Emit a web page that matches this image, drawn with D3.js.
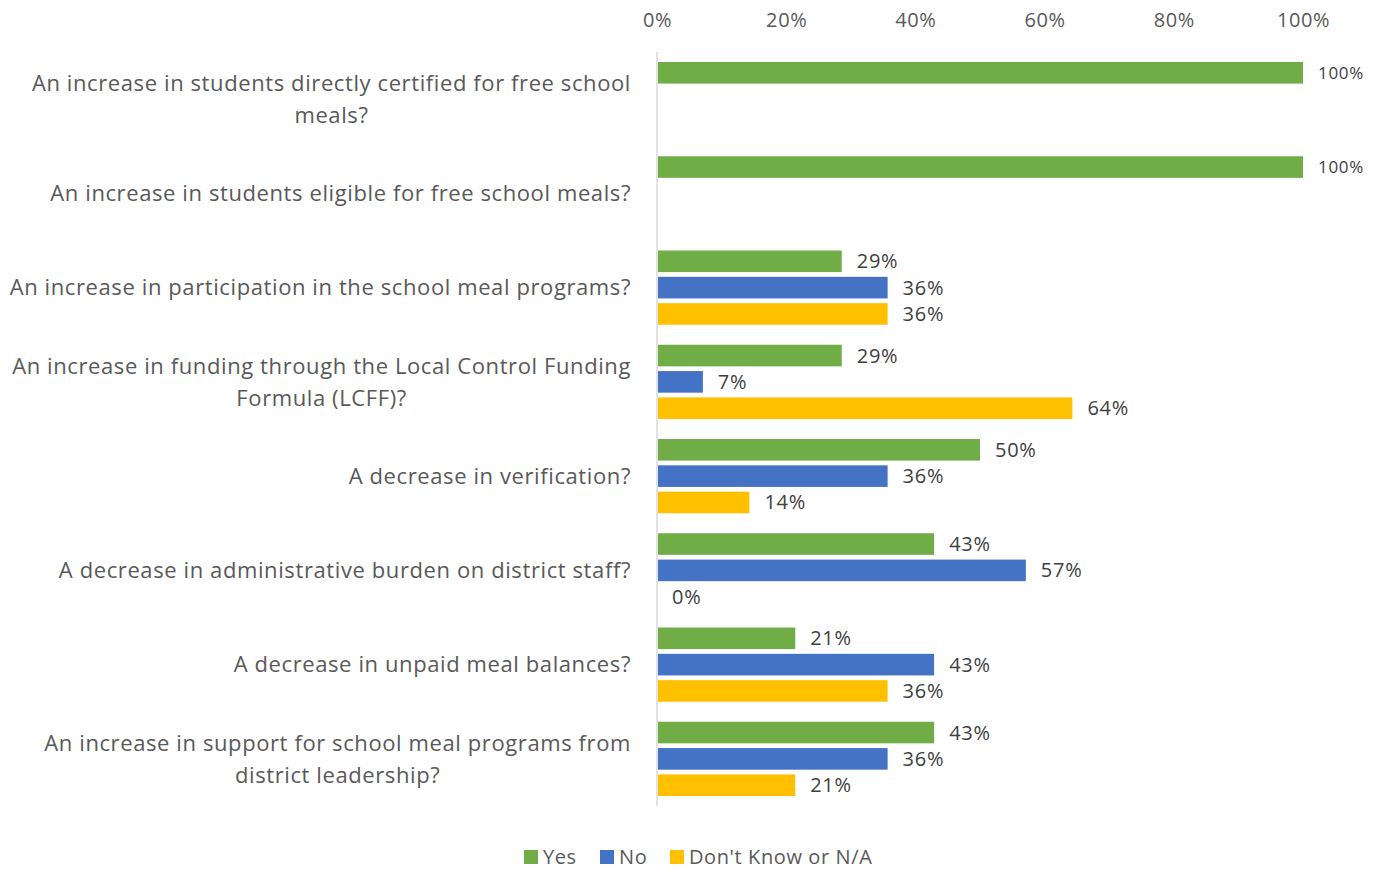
<!DOCTYPE html>
<html>
<head>
<meta charset="utf-8">
<script src="https://cdn.jsdelivr.net/npm/d3@7"></script>
<style>
  body { margin: 0; background: #fff; }
  text { font-family: "Open Sans", Lato, sans-serif; }
</style>
</head>
<body>
<script>
// chart data
var categories = [
  "An increase in students directly certified for free school|meals?",
  "An increase in students eligible for free school meals?",
  "An increase in participation in the school meal programs?",
  "An increase in funding through the Local Control Funding|Formula (LCFF)?",
  "A decrease in verification?",
  "A decrease in administrative burden on district staff?",
  "A decrease in unpaid meal balances?",
  "An increase in support for school meal programs from|district leadership?"
];
var seriesNames = ["Yes", "No", "Don't Know or N/A"];
var yesValues = [1.0, 1.0, 0.286, 0.286, 0.5, 0.429, 0.214, 0.429];
var noValues = [null, null, 0.357, 0.071, 0.357, 0.571, 0.429, 0.357];
var dkValues = [null, null, 0.357, 0.643, 0.143, 0, 0.357, 0.214];
var tickValues = [0, 0.2, 0.4, 0.6, 0.8, 1.0];
var colors = ["#70AD47", "#4472C4", "#FFC000"];

var width = 1381, height = 872;
var svg = d3.select('body').append('svg').attr('width', width).attr('height', height);

var x = d3.scaleLinear().domain([0, 1]).range([657, 1303]);
var y = d3.scaleBand().domain(d3.range(categories.length)).range([52, 806]);
var inner = d3.scaleBand().domain(d3.range(3)).range([10, y.bandwidth() - 10]).paddingInner(0.18);

var allSeries = [yesValues, noValues, dkValues];
var rows = [];
allSeries.forEach(function(vals, s) {
  vals.forEach(function(v, i) {
    if (v !== null) rows.push({ s: s, i: i, v: v });
  });
});

// top axis labels
var xAxis = d3.axisTop(x).tickValues(tickValues).tickFormat(d3.format('.0%')).tickSize(0);
var gx = svg.append('g').attr('transform', 'translate(0,20)').call(xAxis);
gx.select('.domain').remove();
gx.selectAll('text')
  .attr('font-size', 20).attr('fill', '#595959')
  .attr('letter-spacing', 0.6)
  .attr('dy', '0.35em').attr('y', 0)
  .style('font-family', '"Open Sans", sans-serif');

// vertical axis line
svg.append('line')
  .attr('x1', x(0)).attr('x2', x(0))
  .attr('y1', y.range()[0]).attr('y2', y.range()[1])
  .attr('stroke', '#D9D9D9').attr('stroke-width', 1.5);

// bars
svg.selectAll('rect.bar')
  .data(rows)
  .enter()
  .append('rect')
  .attr('class', 'bar')
  .attr('x', x(0) + 1)
  .attr('y', function(d) { return y(d.i) + inner(d.s); })
  .attr('width', function(d) { return Math.max(0, x(d.v) - x(0) - 1); })
  .attr('height', inner.bandwidth())
  .attr('fill', function(d) { return colors[d.s]; });

// data labels
svg.selectAll('text.lbl')
  .data(rows)
  .enter()
  .append('text')
  .attr('class', 'lbl')
  .attr('x', function(d) { return x(d.v) + 15; })
  .attr('y', function(d) { return y(d.i) + inner(d.s) + inner.bandwidth() / 2; })
  .attr('dy', '0.35em')
  .attr('font-size', function(d) { return d.i < 2 ? 17 : 20; })
  .attr('letter-spacing', 0.7)
  .attr('fill', '#404040')
  .text(function(d) { return d3.format('.0%')(d.v); });

// category labels, lines centered within a right-aligned block
var labelRight = 631, lineH = 32;
categories.forEach(function(c, i) {
  var lines = c.split('|');
  var g = svg.append('g');
  var cy = y(i) + y.bandwidth() / 2;
  var texts = lines.map(function(l, k) {
    return g.append('text')
      .attr('y', cy + (k - (lines.length - 1) / 2) * lineH)
      .attr('dy', '0.35em')
      .attr('font-size', 22)
      .attr('letter-spacing', 0.6)
      .attr('fill', '#595959')
      .attr('text-anchor', 'middle')
      .text(l);
  });
  var w = d3.max(texts, function(t) { return t.node().getComputedTextLength(); });
  texts.forEach(function(t) { t.attr('x', labelRight - w / 2); });
});

// legend
var legendX = [524, 600, 670];
var lg = svg.selectAll('g.leg')
  .data(seriesNames)
  .enter()
  .append('g')
  .attr('class', 'leg')
  .attr('transform', function(d, i) { return 'translate(' + legendX[i] + ',857)'; });
lg.append('rect').attr('x', 0).attr('y', -7).attr('width', 14).attr('height', 14)
  .attr('fill', function(d, i) { return colors[i]; });
lg.append('text').attr('x', 19).attr('dy', '0.35em')
  .attr('font-size', 20).attr('letter-spacing', 0.6).attr('fill', '#595959')
  .text(function(d) { return d; });
</script>
</body>
</html>
